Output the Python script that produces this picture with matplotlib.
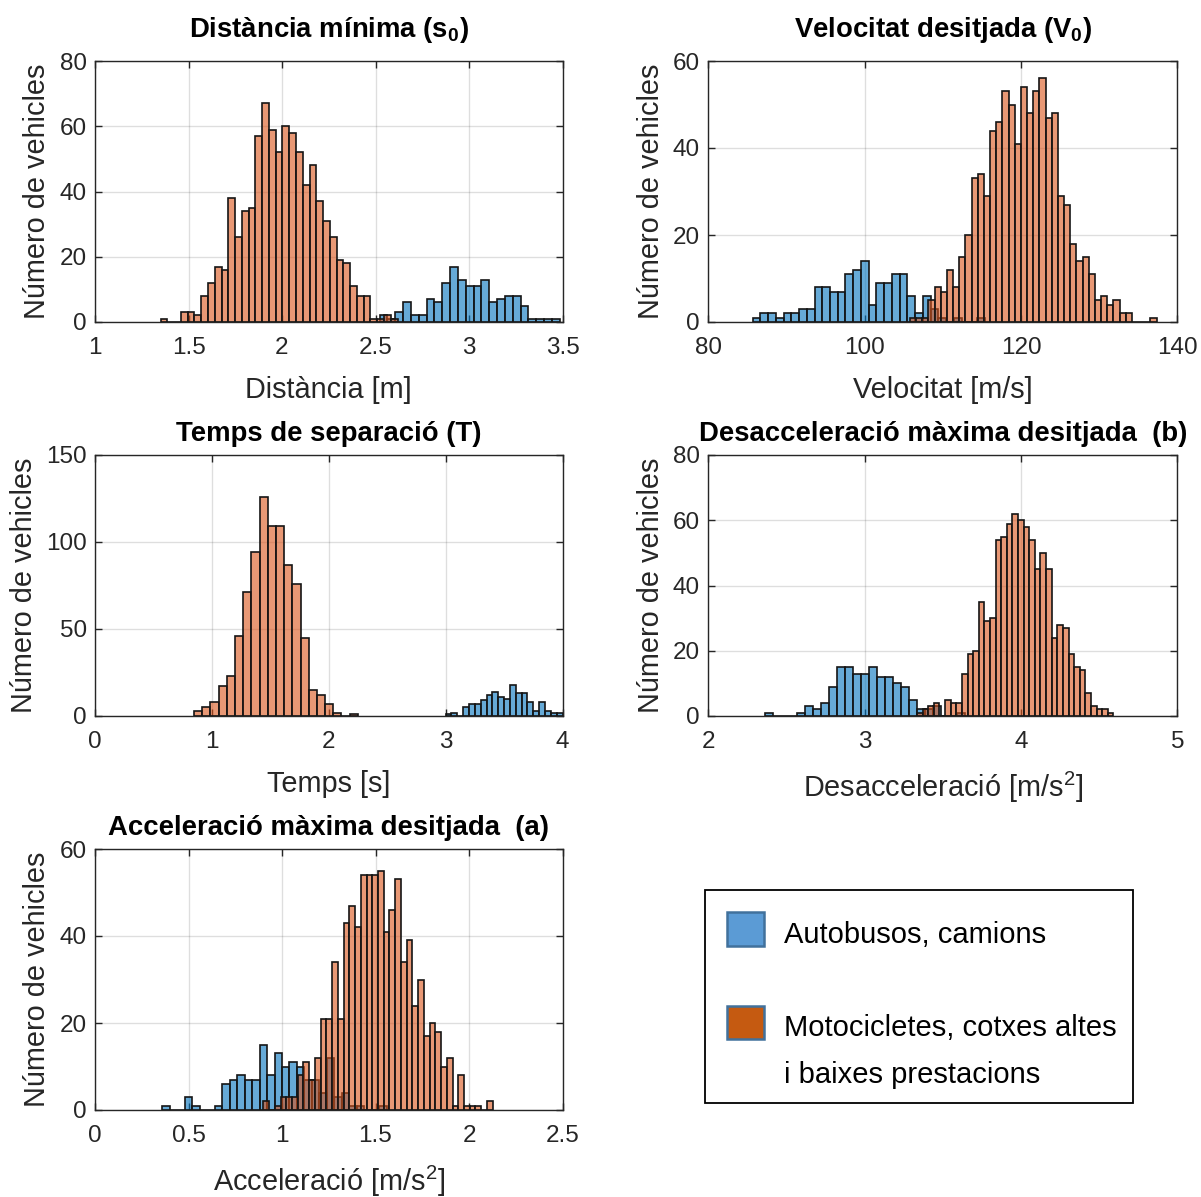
import numpy as np
import matplotlib
matplotlib.use("Agg")
import matplotlib.pyplot as plt
from matplotlib.patches import Rectangle
from matplotlib.ticker import FormatStrFormatter

plt.rcParams['font.family'] = ['Liberation Sans', 'DejaVu Sans']
plt.rcParams['mathtext.fontset'] = 'custom'
plt.rcParams['mathtext.rm'] = 'Liberation Sans'
plt.rcParams['mathtext.it'] = 'Liberation Sans:italic'
plt.rcParams['mathtext.bf'] = 'Liberation Sans:bold'

# ---------------- data ----------------
# Distància mínima (s0)
dist_bus_start = 2.522
dist_bus_binw = 0.0419
dist_bus_counts = [2, 1, 3, 6, 2, 2, 7, 6, 12, 17, 13, 11, 11, 13, 6, 7, 8, 8, 5, 1, 1, 1, 1]
dist_car_start = 1.351
dist_car_binw = 0.0362
dist_car_counts = [1, 0, 0, 3, 3, 2, 8, 12, 17, 16, 38, 26, 34, 35, 57, 67, 59, 52, 60, 58,
                   52, 42, 48, 37, 31, 26, 19, 18, 11, 8, 8, 1, 1, 2, 1]

# Velocitat desitjada (V0)
vel_bus_start = 85.67
vel_bus_binw = 0.99
vel_bus_counts = [1, 2, 2, 1, 2, 2, 3, 3, 8, 8, 7, 7, 11, 12, 14, 4, 9, 9, 11, 11,
                  6, 2, 6, 3, 1, 0, 1, 0, 0, 1]
vel_car_start = 105.8
vel_car_binw = 0.789
vel_car_counts = [1, 1, 1, 5, 8, 7, 12, 8, 15, 20, 33, 34, 29, 44, 46, 53, 50, 41, 54, 48,
                  53, 56, 47, 48, 29, 27, 18, 14, 15, 11, 5, 6, 4, 5, 2, 2, 0, 0, 0, 1]

# Temps de separació (T)
temps_bus_start = 3.0
temps_bus_binw = 0.05
temps_bus_counts = [1, 2, 0, 5, 7, 7, 9, 12, 14, 11, 10, 18, 13, 13, 8, 3, 8, 3, 2, 2]
temps_car_start = 0.847
temps_car_binw = 0.0701
temps_car_counts = [3, 5, 8, 17, 23, 46, 71, 94, 126, 109, 109, 87, 76, 45, 15, 12, 7, 2, 0, 1]

# Desacceleració màxima desitjada (b)
des_bus_start = 2.3625
des_bus_binw = 0.0512
des_bus_counts = [1, 0, 0, 0, 1, 3, 2, 4, 9, 15, 15, 13, 13, 15, 12, 12, 10, 9, 5, 2,
                  2, 3, 0, 0, 1]
des_car_start = 3.335
des_car_binw = 0.0359
des_car_counts = [1, 2, 3, 4, 0, 5, 4, 4, 13, 19, 20, 35, 29, 30, 54, 55, 59, 62, 60, 58,
                  54, 45, 50, 45, 24, 28, 27, 19, 15, 14, 7, 3, 2, 2, 1]

# Acceleració màxima desitjada (a)
acc_bus_start = 0.36
acc_bus_binw = 0.04
acc_bus_counts = [1, 0, 0, 3, 1, 0, 0, 1, 6, 7, 8, 7, 7, 15, 8, 13, 10, 11, 10, 7,
                  7, 4, 12, 3, 4, 1, 1, 0, 0, 1]
acc_car_start = 0.90
acc_car_binw = 0.03066
acc_car_counts = [2, 0, 1, 3, 3, 3, 8, 11, 7, 12, 21, 21, 34, 21, 43, 47, 42, 54, 54, 54,
                  55, 41, 46, 53, 34, 39, 24, 30, 17, 20, 18, 10, 12, 1, 8, 1, 1, 1, 0, 2]

titles = ["Distància mínima (s$_{\\mathbf{0}}$)",
          "Velocitat desitjada (V$_{\\mathbf{0}}$)",
          "Temps de separació (T)",
          "Desacceleració màxima desitjada  (b)",
          "Acceleració màxima desitjada  (a)"]
title_pads = [17, 17, 10, 10, 10]
xlabels = ["Distància [m]", "Velocitat [m/s]", "Temps [s]",
           "Desacceleració [m/s$^2$]", "Acceleració [m/s$^2$]"]
ylabel = "Número de vehicles"
legend_lines = ["Autobusos, camions", "Motocicletes, cotxes altes", "i baixes prestacions"]

# ---------------- figure ----------------
W, H = 1201, 1197
fig = plt.figure(figsize=(W / 100, H / 100), dpi=100)

def px_axes(x0, y0, x1, y1):
    return fig.add_axes([x0 / W, 1 - y1 / H, (x1 - x0) / W, (y1 - y0) / H])

BLUE = (0.0, 0.447, 0.741, 0.6)
ORANGE = (0.85, 0.325, 0.098, 0.6)
TXT = (0.15, 0.15, 0.15)

panels = [
    (px_axes(95, 61, 562.5, 322), (dist_bus_start, dist_bus_binw, dist_bus_counts),
     (dist_car_start, dist_car_binw, dist_car_counts), (1, 3.5), np.arange(1, 3.51, 0.5), (0, 80), np.arange(0, 81, 20)),
    (px_axes(708.3, 61, 1177.3, 322), (vel_bus_start, vel_bus_binw, vel_bus_counts),
     (vel_car_start, vel_car_binw, vel_car_counts), (80, 140), np.arange(80, 141, 20), (0, 60), np.arange(0, 61, 20)),
    (px_axes(95, 455, 562.5, 716), (temps_bus_start, temps_bus_binw, temps_bus_counts),
     (temps_car_start, temps_car_binw, temps_car_counts), (0, 4), np.arange(0, 4.01, 1), (0, 150), np.arange(0, 151, 50)),
    (px_axes(708.3, 455, 1177.3, 716), (des_bus_start, des_bus_binw, des_bus_counts),
     (des_car_start, des_car_binw, des_car_counts), (2, 5), np.arange(2, 5.01, 1), (0, 80), np.arange(0, 81, 20)),
    (px_axes(95, 849, 562.5, 1110), (acc_bus_start, acc_bus_binw, acc_bus_counts),
     (acc_car_start, acc_car_binw, acc_car_counts), (0, 2.5), np.arange(0, 2.51, 0.5), (0, 60), np.arange(0, 61, 20)),
]

for i, (ax, bus, car, xl, xt, yl, yt) in enumerate(panels):
    for (start, bw, counts), col in ((bus, BLUE), (car, ORANGE)):
        c = np.asarray(counts, dtype=float)
        edges = start + bw * np.arange(len(c))
        ax.bar(edges, c, width=bw, align='edge', facecolor=col,
               edgecolor='#151515', linewidth=1.2, zorder=2)
    ax.set_xlim(*xl)
    ax.set_ylim(*yl)
    ax.set_xticks(xt)
    ax.set_yticks(yt)
    ax.xaxis.set_major_formatter(FormatStrFormatter('%g'))
    ax.yaxis.set_major_formatter(FormatStrFormatter('%g'))
    ax.grid(True, color=(0.15, 0.15, 0.15), alpha=0.15, linewidth=1.0, zorder=0)
    ax.set_axisbelow(True)
    ax.tick_params(direction='in', length=5, width=1, top=True, right=True,
                   labelsize=17.5, colors=TXT)
    ax.tick_params(axis='x', pad=11)
    ax.tick_params(axis='y', pad=6)
    for sp in ax.spines.values():
        sp.set_color(TXT)
        sp.set_linewidth(1.0)
    ax.set_title(titles[i], fontsize=19.8, fontweight='bold', pad=title_pads[i], color='black')
    ax.set_xlabel(xlabels[i], fontsize=20.8, color=TXT, labelpad=12)
    ax.set_ylabel(ylabel, fontsize=20.8, color=TXT, labelpad=6)

# ---------------- legend box ----------------
lax = px_axes(0, 0, W, H)
lax.set_xlim(0, W)
lax.set_ylim(H, 0)
lax.axis('off')
lax.add_patch(Rectangle((705, 890), 428, 213, facecolor='white', edgecolor='black', linewidth=1.3))
lax.add_patch(Rectangle((727, 912), 37, 34, facecolor='#5B9BD5', edgecolor='#41719C', linewidth=1.8))
lax.add_patch(Rectangle((727, 1006), 37, 33, facecolor='#C55A11', edgecolor='#41719C', linewidth=1.8))
lax.text(784, 943, legend_lines[0], fontsize=21, color='black', va='baseline', ha='left')
lax.text(784, 1036, legend_lines[1], fontsize=21, color='black', va='baseline', ha='left')
lax.text(784, 1083, legend_lines[2], fontsize=21, color='black', va='baseline', ha='left')

fig.savefig("out.png", dpi=100)
